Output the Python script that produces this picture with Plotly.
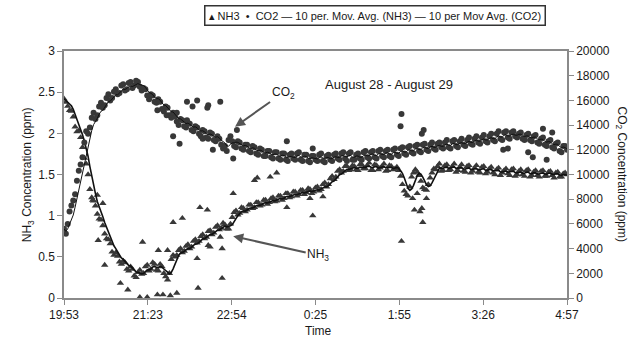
import plotly.graph_objects as go
import pandas as pd

# time in minutes after 19:53: two interleaved sampling grids of the readings
minutes_a = list(range(0, 545, 4))
minutes_b = list(range(2, 545, 4))

nh3_a = [
    2.42, 2.33, 2.27, 2.08, 2.03, 1.83, 1.63, 1.32, 1.18, 1.02,
    0.95, 0.78, 0.71, 0.56, 0.55, 0.44, 0.45, 0.35, 0.38, 0.27,
    0.31, 0.29, 0.38, 0.33, 0.43, 0.34, 0.41, 0.30, 0.22, 0.47,
    0.50, 0.58, 0.55, 0.63, 0.60, 0.69, 0.67, 0.75, 0.72, 0.81,
    0.77, 0.86, 0.83, 0.91, 0.84, 0.90, 1.04, 1.01, 1.10, 1.05,
    1.13, 1.09, 1.16, 1.12, 1.19, 1.14, 1.21, 1.17, 1.24, 1.19,
    1.27, 1.22, 1.29, 1.24, 1.31, 1.26, 1.33, 1.27, 1.34, 1.30,
    1.38, 1.35, 1.45, 1.44, 1.54, 1.52, 1.60, 1.55, 1.61, 1.56,
    1.62, 1.57, 1.61, 1.55, 1.62, 1.56, 1.60, 1.54, 1.61, 1.56,
    1.59, 1.48, 1.30, 1.24, 1.47, 1.56, 1.49, 1.34, 1.31, 1.46,
    1.57, 1.60, 1.54, 1.61, 1.55, 1.60, 1.53, 1.59, 1.54, 1.60,
    1.52, 1.58, 1.53, 1.59, 1.51, 1.57, 1.52, 1.56, 1.49, 1.55,
    1.51, 1.56, 1.48, 1.54, 1.50, 1.55, 1.47, 1.53, 1.49, 1.54,
    1.48, 1.53, 1.49, 1.52, 1.47, 1.51, 1.50,
]

nh3_b = [
    2.38, 2.28, 2.20, 2.02, 1.95, 1.70, 1.50, 1.22, 1.12, 0.96,
    0.88, 0.72, 0.66, 0.52, 0.51, 0.41, 0.43, 0.33, 0.35, 0.25,
    0.34, 0.30, 0.40, 0.35, 0.41, 0.33, 0.38, 0.26, 0.30, 0.52,
    0.52, 0.60, 0.57, 0.65, 0.62, 0.71, 0.69, 0.77, 0.74, 0.82,
    0.79, 0.88, 0.85, 0.89, 0.84, 0.98, 1.06, 1.03, 1.09, 1.07,
    1.13, 1.10, 1.16, 1.13, 1.19, 1.16, 1.22, 1.18, 1.24, 1.21,
    1.27, 1.23, 1.29, 1.26, 1.31, 1.28, 1.32, 1.29, 1.35, 1.32,
    1.40, 1.38, 1.48, 1.47, 1.56, 1.54, 1.60, 1.56, 1.60, 1.55,
    1.62, 1.57, 1.64, 1.55, 1.61, 1.58, 1.63, 1.55, 1.60, 1.57,
    1.55, 1.38, 1.26, 1.35, 1.52, 1.53, 1.42, 1.32, 1.38, 1.52,
    1.56, 1.63, 1.55, 1.62, 1.56, 1.63, 1.55, 1.62, 1.53, 1.61,
    1.54, 1.61, 1.52, 1.60, 1.53, 1.59, 1.50, 1.58, 1.52, 1.57,
    1.49, 1.57, 1.50, 1.56, 1.48, 1.56, 1.49, 1.55, 1.47, 1.55,
    1.48, 1.54, 1.46, 1.53, 1.47, 1.52,
]

co2_a = [
    5600, 6000, 7500, 8400, 10300, 11400, 13500, 13800, 15000, 14800,
    15800, 15600, 16500, 16200, 16900, 16600, 17300, 16900, 17500, 17200,
    17500, 16800, 16900, 16100, 16400, 15800, 15900, 15100, 15400, 14600,
    14700, 14000, 14400, 13800, 14100, 13500, 13800, 13100, 13500, 12900,
    13300, 12700, 12900, 12100, 11900, 13100, 12300, 12700, 12100, 12400,
    11900, 12300, 11700, 12100, 11500, 11900, 11400, 11800, 11300, 11700,
    11200, 11600, 11300, 11700, 11200, 11600, 11100, 11500, 11200, 11600,
    11100, 11500, 11200, 11600, 11300, 11700, 11300, 11700, 11200, 11600,
    11300, 11800, 11400, 11800, 11400, 11900, 11500, 11900, 11500, 12000,
    11600, 12100, 11700, 12200, 11800, 12300, 11900, 12400, 12000, 12400,
    12100, 12500, 12200, 12600, 12200, 12700, 12300, 12700, 12400, 12800,
    12500, 12900, 12600, 13000, 12700, 13100, 12800, 13300, 12900, 13400,
    13000, 13400, 13100, 13300, 12900, 13200, 12800, 13100, 12600, 12900,
    12400, 12700, 12200, 12500, 11900, 12300, 12000,
]

co2_b = [
    5200, 7000, 7900, 9500, 10800, 12600, 13300, 14600, 14500, 15500,
    15400, 16200, 16000, 16700, 16500, 17200, 16800, 17400, 17000, 17600,
    17100, 17000, 16400, 16500, 15900, 16100, 15300, 15500, 14800, 15000,
    14300, 14500, 13900, 14200, 13600, 13900, 13300, 13600, 13000, 13400,
    12800, 13100, 12400, 12300, 12800, 12700, 12200, 12600, 12000, 12400,
    11800, 12200, 11600, 12000, 11500, 11900, 11300, 11800, 11200, 11700,
    11100, 11700, 11200, 11800, 11100, 11600, 11000, 11500, 11100, 11700,
    11000, 11600, 11100, 11700, 11200, 11800, 11100, 11800, 11200, 11700,
    11200, 11900, 11300, 11900, 11300, 12000, 11400, 12000, 11400, 12100,
    11500, 12200, 11600, 12300, 11700, 12400, 11800, 12500, 11900, 12600,
    12000, 12600, 12100, 12800, 12100, 12800, 12200, 12900, 12300, 13000,
    12400, 13100, 12500, 13200, 12600, 13300, 12700, 13500, 12800, 13500,
    12900, 13500, 13000, 13400, 12800, 13300, 12700, 13200, 12500, 13000,
    12300, 12800, 12100, 12600, 11800, 12300,
]

# isolated readings (outliers)
nh3_extra_t = [36, 42, 37, 44, 61, 69, 82, 90, 101, 107, 115, 122, 145, 171, 85, 102,
               112, 118, 128, 144, 158, 171, 169, 147, 155, 183, 209, 230, 269, 241,
               266, 280, 382, 379, 385, 388, 377, 392, 387, 365, 31, 206, 223, 156]
nh3_extra_v = [1.25, 1.15, 0.70, 0.40, 0.18, 0.10, 0.01, 0.01, 0.04, 0.04, 0.03, 0.06, 0.12,
               0.24, 0.68, 0.58, 0.58, 0.92, 0.97, 0.48, 0.62, 0.60, 0.74, 1.10, 1.07, 1.27,
               1.46, 1.52, 1.00, 1.10, 1.21, 1.23, 1.27, 1.07, 1.05, 0.92, 1.21, 1.21, 1.09,
               0.69, 1.19, 1.43, 1.47, 0.64]

co2_extra_t = [101, 111, 122, 133, 139, 155, 169, 133, 150, 161, 125, 118, 187, 241, 269,
               365, 364, 387, 389, 475, 480, 507, 522, 518, 528, 502, 144, 156, 183]
co2_extra_v = [15200, 14800, 15000, 15900, 15500, 15400, 15900, 14400, 12900, 12000, 12500,
               13100, 13600, 12700, 12100, 14900, 13900, 13300, 13600, 12000, 12100, 11400,
               11200, 13700, 13400, 11800, 16000, 15600, 11300]

tick_labels = ["19:53", "21:23", "22:54", "0:25", "1:55", "3:26", "4:57"]
tick_pos = [i * 544 / 6 for i in range(7)]

legend_labels = ["NH3", "CO2", "10 per. Mov. Avg. (NH3)", "10 per Mov Avg. (CO2)"]

# 10-period moving averages over the regular readings (2-min grid)
nh3_series = pd.Series(nh3_a + nh3_b, index=minutes_a + minutes_b).sort_index()
co2_series = pd.Series(co2_a + co2_b, index=minutes_a + minutes_b).sort_index()
nh3_ma = nh3_series.rolling(5, min_periods=1).mean()
co2_ma = co2_series.rolling(5, min_periods=1).mean()

FONT = "Liberation Sans, Arial, sans-serif"
MK = "#383838"

fig = go.Figure()
fig.add_trace(go.Scatter(x=minutes_a + minutes_b + nh3_extra_t,
                         y=nh3_a + nh3_b + nh3_extra_v, mode="markers",
                         name=legend_labels[0],
                         marker=dict(symbol="triangle-up", size=6.5, color=MK),
                         yaxis="y"))
fig.add_trace(go.Scatter(x=minutes_a + minutes_b + co2_extra_t,
                         y=co2_a + co2_b + co2_extra_v, mode="markers",
                         name=legend_labels[1], marker=dict(symbol="circle", size=6, color=MK),
                         yaxis="y2"))
fig.add_trace(go.Scatter(x=list(nh3_ma.index), y=list(nh3_ma.values), mode="lines",
                         name=legend_labels[2],
                         line=dict(color="#111", width=1.6), yaxis="y"))
fig.add_trace(go.Scatter(x=list(co2_ma.index), y=list(co2_ma.values), mode="lines",
                         name=legend_labels[3],
                         line=dict(color="#111", width=1.0), yaxis="y2"))

axis_common = dict(showgrid=False, zeroline=False, showline=True, linecolor="#8a8a8a",
                   linewidth=1.5, ticks="outside", tickcolor="#8a8a8a", ticklen=5,
                   tickfont=dict(family=FONT, size=12, color="#1a1a1a"))

legend_text = ("▴ %s  •  %s — %s — %s" % tuple(legend_labels))

fig.update_layout(
    width=644, height=355,
    margin=dict(l=64, r=77, t=51, b=57, autoexpand=False),
    paper_bgcolor="white", plot_bgcolor="white",
    font=dict(family=FONT, size=12, color="#1a1a1a"),
    xaxis=dict(range=[0, 544], tickvals=tick_pos, ticktext=tick_labels, mirror=True,
               **axis_common),
    yaxis=dict(range=[0, 3], dtick=0.5, **axis_common),
    yaxis2=dict(range=[0, 20000], dtick=2000, tickformat="d", overlaying="y", side="right",
                **axis_common),
    showlegend=False,
    annotations=[
        dict(text=legend_text, xref="paper", yref="paper", x=0.618, y=1.142,
             xanchor="center", yanchor="middle", showarrow=False,
             bordercolor="#333", borderwidth=1.5, borderpad=3, bgcolor="white",
             font=dict(family=FONT, size=11, color="#1a1a1a")),
        dict(text="NH<sub>3</sub> Concentration (ppm)", xref="paper", yref="paper",
             x=-0.092, y=0.5, textangle=-90, showarrow=False, font=dict(size=12)),
        dict(text="CO<sub>2</sub> Concentration (ppm)", xref="paper", yref="paper",
             x=1.129, y=0.5, textangle=90, showarrow=False, font=dict(size=12)),
        dict(text="Time", xref="paper", yref="paper", x=0.505, y=-0.17,
             showarrow=False, font=dict(size=12)),
        dict(text="August 28 - August 29", xref="paper", yref="paper", x=0.777, y=0.903,
             showarrow=False, font=dict(size=13)),
        dict(text="CO<sub>2</sub>", x=185, y=2.08, xref="x", yref="y", ax=48, ay=-34,
             showarrow=True, arrowhead=2, arrowsize=1, arrowwidth=2, arrowcolor="#555",
             font=dict(size=12)),
        dict(text="NH<sub>3</sub>", x=183, y=0.75, xref="x", yref="y", ax=85, ay=19,
             showarrow=True, arrowhead=2, arrowsize=1, arrowwidth=2, arrowcolor="#555",
             font=dict(size=12)),
    ],
)

fig.write_html("out.html", config={"displayModeBar": False},
               post_script="document.body.style.margin='0px';")
